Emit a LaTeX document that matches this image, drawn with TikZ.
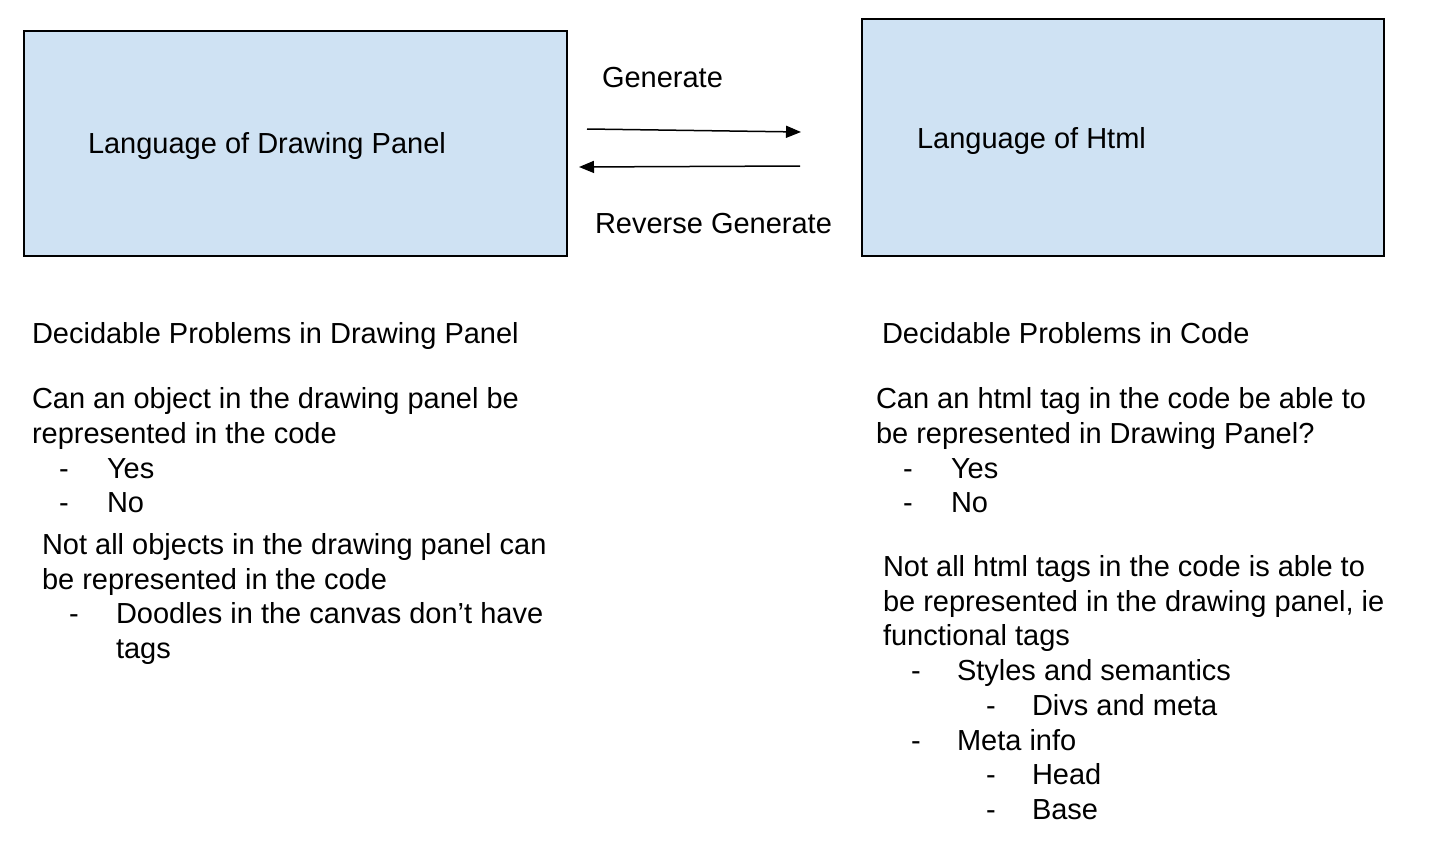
\documentclass[tikz,border=0pt]{standalone}
\usepackage{fontspec}
\setmainfont{Liberation Sans}
\usetikzlibrary{arrows.meta}
\definecolor{boxblue}{HTML}{CFE2F3}
\begin{document}
\begin{tikzpicture}[x=1pt,y=-1pt,
  txt/.style={anchor=base west,inner sep=0pt,outer sep=0pt,font=\fontsize{29}{35}\selectfont},
  panel/.style={draw=black,line width=1.5pt,fill=boxblue},
  flow/.style={line width=1.5pt,-{Triangle[length=15pt,width=12pt]}}]
\useasboundingbox[fill=white] (0,0) rectangle (1452,867);
% boxes
\draw[panel] (24,31) rectangle (567,256);
\draw[panel] (862,19) rectangle (1384,256);
\node[txt] (lp) at (88,153) {Language of Drawing Panel};
\node[txt] (lh) at (917,148) {Language of Html};
% arrows
\coordinate (g1) at (587,129);
\coordinate (g2) at (801,132);
\coordinate (r1) at (800,166);
\coordinate (r2) at (579,167);
\draw[flow] (g1) -- (g2);
\draw[flow] (r1) -- (r2);
\node[txt] (gen) at (602,88) {Generate};
\node[txt] (rev) at (595,233) {Reverse Generate};
% left column
\node[txt] (l1) at (32,343) {Decidable Problems in Drawing Panel};
\node[txt] (l2) at (32,408) {Can an object in the drawing panel be};
\node[txt] (l3) at (32,443) {represented in the code};
\node[txt] (l4d) at (59,478) {-};
\node[txt] (l4) at (107,478) {Yes};
\node[txt] (l5d) at (59,512) {-};
\node[txt] (l5) at (107,512) {No};
\node[txt] (l6) at (42,554) {Not all objects in the drawing panel can};
\node[txt] (l7) at (42,589) {be represented in the code};
\node[txt] (l8d) at (69,623) {-};
\node[txt] (l8) at (116,623) {Doodles in the canvas don’t have};
\node[txt] (l9) at (116,658) {tags};
% right column
\node[txt] (r1t) at (882,343) {Decidable Problems in Code};
\node[txt] (r2t) at (876,408) {Can an html tag in the code be able to};
\node[txt] (r3t) at (876,443) {be represented in Drawing Panel?};
\node[txt] (r4d) at (903,478) {-};
\node[txt] (r4) at (951,478) {Yes};
\node[txt] (r5d) at (903,512) {-};
\node[txt] (r5) at (951,512) {No};
\node[txt] (r6) at (883,576) {Not all html tags in the code is able to};
\node[txt] (r7) at (883,611) {be represented in the drawing panel, ie};
\node[txt] (r8) at (883,645) {functional tags};
\node[txt] (r9d) at (911,680) {-};
\node[txt] (r9) at (957,680) {Styles and semantics};
\node[txt] (r10d) at (986,715) {-};
\node[txt] (r10) at (1032,715) {Divs and meta};
\node[txt] (r11d) at (911,750) {-};
\node[txt] (r11) at (957,750) {Meta info};
\node[txt] (r12d) at (986,784) {-};
\node[txt] (r12) at (1032,784) {Head};
\node[txt] (r13d) at (986,819) {-};
\node[txt] (r13) at (1032,819) {Base};
\end{tikzpicture}
\end{document}
